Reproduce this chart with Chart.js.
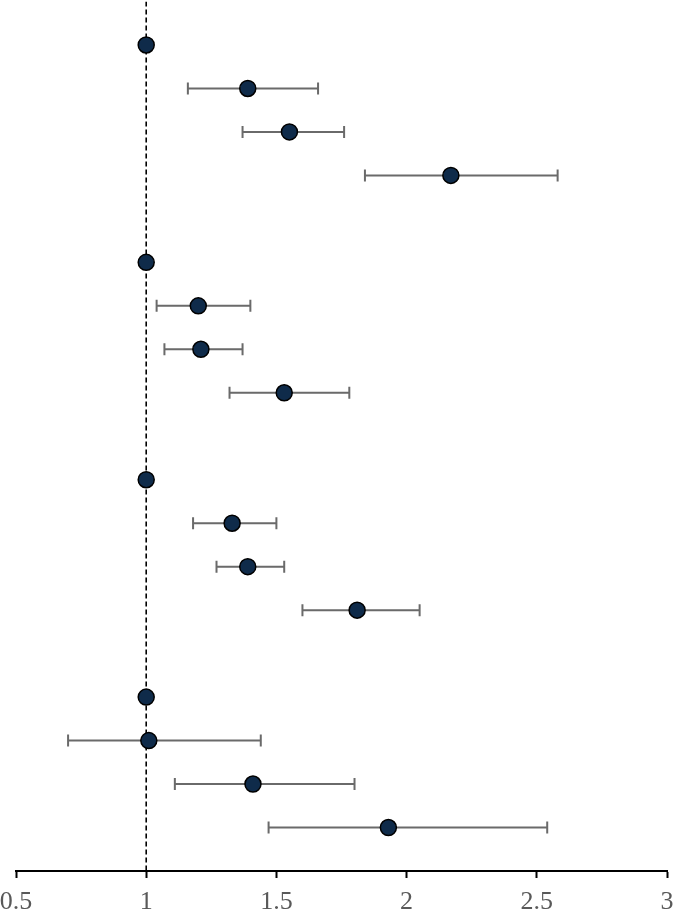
<!DOCTYPE html>
<html>
<head>
<meta charset="utf-8">
<script src="https://cdn.jsdelivr.net/npm/chart.js@4/dist/chart.umd.min.js"></script>
<style>
  html, body { margin: 0; padding: 0; background: #fff; }
  #wrap { width: 675px; height: 919px; position: relative; }
</style>
</head>
<body>
<div id="wrap"><canvas id="forest"></canvas></div>
<script>
// row positions (gaps between the four groups)
const rowPos = [0, 1, 2, 3, 5, 6, 7, 8, 10, 11, 12, 13, 15, 16, 17, 18]
const estimates = [1, 1.39, 1.55, 2.17, 1, 1.20, 1.21, 1.53, 1, 1.33, 1.39, 1.81, 1, 1.01, 1.41, 1.93]
const lower = [null, 1.16, 1.37, 1.84, null, 1.04, 1.07, 1.32, null, 1.18, 1.27, 1.60, null, 0.70, 1.11, 1.47]
const upper = [null, 1.66, 1.76, 2.58, null, 1.40, 1.37, 1.78, null, 1.50, 1.53, 2.05, null, 1.44, 1.80, 2.54]
const tickLabels = ['0.5', '1', '1.5', '2', '2.5', '3']
const refValue = 1

// horizontal CI bars with end caps, drawn under the points
const errorBars = {
    id: 'errorBars',
    beforeDatasetsDraw(chart) {
        const ctx = chart.ctx
        const x = chart.scales.x
        const y = chart.scales.y
        ctx.save()
        ctx.strokeStyle = '#6a6a6a'
        ctx.lineWidth = 2
        for (let i = 0; i < rowPos.length; i++) {
            if (lower[i] == null) continue
            const yy = y.getPixelForValue(rowPos[i])
            const x1 = x.getPixelForValue(lower[i])
            const x2 = x.getPixelForValue(upper[i])
            ctx.beginPath()
            ctx.moveTo(x1, yy)
            ctx.lineTo(x2, yy)
            ctx.moveTo(x1, yy - 6)
            ctx.lineTo(x1, yy + 6)
            ctx.moveTo(x2, yy - 6)
            ctx.lineTo(x2, yy + 6)
            ctx.stroke()
        }
        ctx.restore()
    }
}

const ctx = document.getElementById('forest').getContext('2d')
const chart = new Chart(ctx, {
    type: 'scatter',
    data: {
        datasets: [{
            label: 'Estimate',
            data: estimates.map((v, i) => ({ x: v, y: rowPos[i] })),
            backgroundColor: '#0f2b4a',
            borderColor: '#000',
            borderWidth: 1.5,
            pointRadius: 8,
            pointHoverRadius: 8,
            order: 0
        }, {
            label: 'Reference',
            type: 'line',
            data: [{ x: refValue, y: -1 }, { x: refValue, y: 19 }],
            borderColor: '#000',
            borderWidth: 1.6,
            borderDash: [5, 3],
            pointRadius: 0,
            fill: false,
            order: 1
        }]
    },
    options: {
        responsive: true,
        maintainAspectRatio: false,
        animation: false,
        layout: { autoPadding: false, padding: { left: 16, right: 8, top: 1.5, bottom: 0 } },
        plugins: {
            legend: { display: false },
            tooltip: { enabled: false }
        },
        scales: {
            x: {
                type: 'linear',
                min: 0.5,
                max: 3,
                afterFit(scale) {
                    // no extra room for the end labels, fixed axis band
                    scale.paddingLeft = 0
                    scale.paddingRight = 0
                    scale.height = 48
                },
                ticks: {
                    stepSize: 0.5,
                    color: '#595959',
                    padding: 9,
                    font: { family: '"Liberation Serif", "Times New Roman", serif', size: 26 },
                    callback: (v, i) => tickLabels[i]
                },
                grid: {
                    drawOnChartArea: false,
                    drawTicks: true,
                    tickLength: 7,
                    tickWidth: 2,
                    tickColor: '#000'
                },
                border: { display: true, color: '#000', width: 2 }
            },
            y: {
                type: 'linear',
                display: false,
                reverse: true,
                min: -1,
                max: 19
            }
        }
    },
    plugins: [errorBars]
})
</script>
</body>
</html>
